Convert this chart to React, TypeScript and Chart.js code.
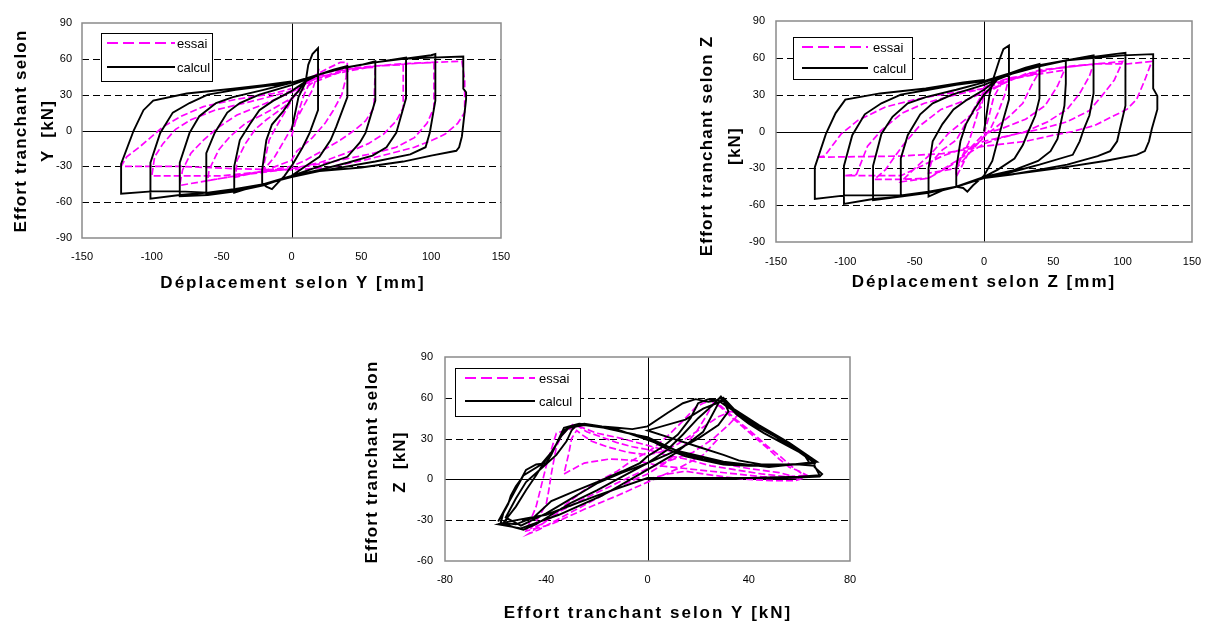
import { useEffect, useRef } from "react";
import { Chart, registerables } from "chart.js";

Chart.register(...registerables);

type P = [number, number];

const FONT = '"Liberation Sans", Arial, sans-serif';
const MAGENTA = "#FF00FF";

// ---------- Chart 1 : Effort tranchant Y vs déplacement Y ----------
const essaiY: P[] = [
  [0, -5], [4, 12], [9, 30], [14, 42], [19, 49], [15, 34], [8, 19], [2, 6], [-5, -8], [-12, -22], [-20, -33],
  [-20, -30], [-16, -8], [-11, 3], [-5, 15], [0, 25], [5, 35],
  [15, 45], [26, 52], [35, 57], [40, 57], [39, 44], [36, 30], [30, 17], [24, 6], [15, -6], [4, -17], [0, -25],
  [-20, -34], [-40, -39], [-39, -25], [-33, -11], [-26, 1], [-18, 9], [-5, 20], [0, 27], [10, 40],
  [26, 49], [45, 52], [60, 53], [59, 19], [53, 8], [46, 1], [35, -8], [22, -17], [10, -25], [0, -30],
  [-30, -36], [-60, -42], [-59, -33], [-52, -16], [-44, -5], [-33, 6], [-18, 15], [0, 27], [15, 40],
  [40, 51], [60, 54], [80, 55], [80, 19], [75, 8], [66, -3], [55, -11], [39, -19], [20, -27], [0, -32],
  [-40, -38], [-80, -46], [-78, -33], [-72, -19], [-63, -8], [-52, 3], [-39, 13], [-20, 22], [0, 32], [15, 42],
  [40, 52], [80, 56], [102, 57], [102, 19], [97, 6], [88, -6], [75, -14], [59, -19], [30, -26], [0, -32],
  [-50, -38], [-100, -38], [-98, -22], [-92, -11], [-83, 1], [-72, 9], [-55, 17], [-30, 24], [0, 33], [20, 45],
  [60, 54], [100, 57], [122, 58], [124, 42], [124, 15], [119, 6], [110, -3], [101, -8], [88, -14], [75, -18],
  [55, -24], [26, -31], [0, -33], [-40, -32], [-80, -30], [-122, -30], [-118, -22], [-109, -14], [-102, -7],
  [-92, 3], [-79, 12], [-63, 20], [-40, 26], [-13, 31], [0, 35],
];

const calculY: P[] = [
  [0, 0], [5, 28], [10, 40], [12, 55], [15, 64], [19, 69], [19, 17], [13, -2], [8, -14], [1, -28], [-5, -38],
  [-10, -44], [-14, -49], [-18, -47], [-21, -44], [-21, -33], [-18, -8], [-14, 5], [-6, 16], [1, 28], [5, 33],
  [10, 42], [20, 47], [30, 51], [40, 54], [40, 28], [32, 3], [28, -8], [20, -22], [10, -30], [0, -38],
  [-20, -45], [-30, -48], [-41, -52], [-41, -30], [-37, -8], [-30, 5], [-23, 17], [-13, 25], [0, 33],
  [10, 41], [20, 47], [40, 53], [50, 55], [60, 58], [60, 25], [53, -2], [49, -10], [40, -22], [20, -30], [0, -38],
  [-20, -45], [-40, -50], [-61, -53], [-61, -19], [-55, -2], [-46, 15], [-37, 23], [-23, 30], [0, 38],
  [20, 47], [40, 53], [60, 57], [82, 61], [82, 27], [75, -2], [68, -14], [58, -21], [40, -27], [20, -33], [0, -38],
  [-20, -46], [-40, -51], [-60, -54], [-80, -55], [-80, -27], [-73, -2], [-66, 12], [-54, 23], [-42, 28],
  [-20, 34], [0, 40], [20, 47], [40, 53], [60, 57], [80, 60], [100, 63], [103, 64], [103, 25], [99, -2],
  [96, -14], [85, -20], [60, -26], [40, -30], [20, -34], [0, -38], [-20, -45], [-40, -49], [-60, -52],
  [-80, -54], [-101, -57], [-101, -27], [-94, -2], [-85, 15], [-73, 23], [-60, 30], [-40, 34], [-20, 37],
  [0, 40], [20, 47], [40, 53], [60, 57], [80, 60], [100, 61], [123, 62], [123, 35], [125, 32], [125, 26],
  [122, -5], [120, -14], [118, -17], [100, -21], [80, -26], [50, -31], [20, -34], [0, -39], [-20, -45],
  [-40, -49], [-60, -52], [-80, -51], [-100, -51], [-122, -53], [-122, -28], [-113, 0], [-106, 17], [-99, 25],
  [-75, 31], [-42, 35], [-20, 38], [0, 41],
];

// ---------- Chart 2 : Effort tranchant Z vs déplacement Z ----------
const essaiZ: P[] = [
  [0, -2], [3, 10], [7, 28], [12, 38], [18, 44], [15, 30], [10, 15], [5, 3], [0, -5], [-10, -15], [-20, -37],
  [-20, -30], [-11, -9], [-4, 17], [-1, 31], [0, 36],
  [8, 40], [20, 44], [39, 47], [34, 37], [28, 23], [19, 13], [7, 2], [0, -4], [-20, -30], [-40, -34],
  [-38, -25], [-30, -15], [-20, -7], [-8, 17], [-1, 31],
  [10, 40], [30, 45], [58, 50], [53, 37], [44, 21], [30, 10], [12, 2], [0, -2], [-20, -25], [-40, -38],
  [-60, -41], [-48, -28], [-38, -18], [-26, -2], [-11, 12], [-2, 20], [0, 30],
  [20, 43], [50, 51], [79, 55], [76, 45], [69, 31], [60, 18], [46, 8], [30, 0], [10, -6], [0, -10],
  [-40, -38], [-60, -39], [-79, -39], [-71, -31], [-59, -12], [-47, 4], [-31, 18], [-12, 26], [0, 32],
  [30, 47], [60, 53], [100, 57], [94, 42], [85, 29], [76, 17], [60, 8], [41, 2], [19, -3], [0, -8],
  [-30, -20], [-60, -36], [-100, -36], [-92, -35], [-84, -12], [-74, 1], [-59, 15], [-43, 23], [-20, 30], [0, 35],
  [40, 50], [80, 55], [103, 55], [121, 57], [116, 42], [110, 26], [103, 18], [94, 13], [80, 5], [64, 0],
  [50, -3], [30, -8], [0, -12], [-30, -18], [-60, -20], [-121, -21], [-115, -20], [-103, -2], [-91, 9],
  [-71, 20], [-50, 26], [-26, 31], [0, 35],
];

const calculZ: P[] = [
  [0, 0], [4, 30], [7, 44], [11, 58], [14, 67], [18, 70], [18, 26], [14, 10], [9, -11], [6, -24], [0, -36],
  [-8, -44], [-12, -49], [-15, -46], [-20, -45], [-20, -30], [-17, -8], [-13, 6], [-7, 18], [0, 30], [5, 36],
  [10, 43], [20, 48], [30, 52], [40, 55], [40, 27], [37, 13], [32, 0], [28, -11], [22, -22], [10, -31], [0, -37],
  [-20, -45], [-30, -48], [-40, -53], [-40, -30], [-37, -8], [-30, 6], [-22, 18], [-12, 26], [0, 34],
  [10, 43], [20, 48], [40, 54], [59, 58], [59, 39], [58, 21], [53, -6], [48, -16], [39, -24], [20, -32], [0, -37],
  [-20, -45], [-40, -50], [-60, -52], [-60, -22], [-55, -3], [-46, 14], [-37, 23], [-23, 30], [0, 38],
  [20, 47], [40, 53], [60, 58], [79, 62], [79, 31], [76, 13], [72, 2], [69, -8], [64, -19], [40, -27],
  [20, -33], [0, -38], [-20, -45], [-40, -50], [-60, -53], [-80, -56], [-80, -28], [-74, -2], [-66, 12],
  [-55, 23], [-42, 28], [-20, 34], [0, 40], [20, 48], [40, 54], [60, 58], [80, 61], [94, 63], [102, 64],
  [102, 21], [98, 2], [96, -8], [91, -16], [82, -20], [60, -27], [40, -31], [20, -35], [0, -38], [-20, -45],
  [-40, -50], [-60, -53], [-80, -55], [-101, -59], [-101, -28], [-95, -3], [-86, 14], [-74, 23], [-60, 30],
  [-40, 34], [-20, 38], [0, 41], [20, 48], [40, 54], [60, 58], [80, 60], [100, 62], [122, 63], [122, 35],
  [125, 29], [125, 18], [121, 2], [119, -8], [116, -16], [110, -19], [87, -24], [53, -30], [19, -35], [0, -38],
  [-20, -45], [-40, -49], [-60, -52], [-80, -52], [-100, -52], [-122, -55], [-122, -29], [-114, -2], [-107, 15],
  [-100, 26], [-75, 31], [-42, 35], [-15, 40], [0, 42],
];

// ---------- Chart 3 : Effort tranchant Z vs effort tranchant Y ----------
const essaiYZ: P[] = [
  [0, 0], [8, 4], [15, 6], [22, 4], [30, 2], [40, 0], [50, -1], [58, -1], [62, 1], [63, 3], [60, 6], [56, 9],
  [52, 15], [48, 22], [43, 30], [38, 38], [33, 46], [29, 53], [25, 58], [22, 56], [19, 53], [14, 43], [8, 32],
  [3, 24], [0, 20], [-6, 14], [-12, 6], [-18, 0], [-25, -8], [-32, -18], [-38, -28], [-44, -36], [-47, -40],
  [-43, -37], [-36, -30], [-28, -22], [-20, -14], [-12, -6], [-5, 0], [0, 4], [7, 12], [13, 22], [19, 34],
  [23, 46], [26, 56], [29, 54], [35, 44], [41, 35], [47, 25], [53, 16], [58, 8], [62, 3], [55, 2], [45, 4],
  [35, 7], [25, 10], [15, 15], [7, 18], [0, 22], [-6, 24], [-12, 27], [-18, 31], [-24, 35], [-29, 41],
  [-31, 38], [-34, 32], [-36, 24], [-37, 14], [-38, 4], [-39, -8], [-40, -18], [-43, -28], [-46, -36],
  [-42, -33], [-35, -24], [-27, -16], [-18, -8], [-9, 0], [0, 8], [9, 14], [18, 20], [26, 30], [32, 40],
  [36, 48], [33, 50], [28, 46], [20, 36], [12, 26], [5, 20], [0, 18], [-8, 20], [-16, 24], [-22, 28],
  [-26, 33], [-28, 36], [-30, 30], [-31, 20], [-32, 12], [-33, 4], [-25, 12], [-15, 15], [-5, 14], [5, 10],
  [15, 8], [25, 6], [35, 4], [45, 2], [55, 1], [60, 1], [52, 5], [40, 8], [28, 12], [16, 18], [6, 22],
  [-2, 26], [-10, 30], [-20, 34], [-27, 39], [-36, 34], [-40, 10], [-44, -20], [-48, -38], [-38, -33],
  [-25, -22], [-12, -12], [0, -2], [12, 8], [22, 18], [28, 30],
];

const calculYZ: P[] = [
  [0, 0], [20, 1], [40, 1], [55, 1], [68, 2], [69, 4], [66, 9], [66, 12], [60, 20], [53, 27], [46, 34],
  [40, 41], [35, 48], [32, 54], [29, 60], [27, 58], [24, 57], [19, 59], [14, 56], [8, 49], [0, 39], [-6, 37],
  [-12, 38], [-18, 39], [-25, 41], [-30, 39], [-33, 36], [-36, 26], [-38, 18], [-40, 12], [-44, 11], [-48, 7],
  [-50, 0], [-52, -5], [-54, -12], [-55, -18], [-57, -25], [-58, -32], [-53, -35], [-49, -37], [-44, -33],
  [-38, -26], [-30, -17], [-20, -8], [-10, 2], [0, 12], [8, 22], [14, 33], [20, 45], [26, 55], [29, 61],
  [31, 56], [36, 47], [42, 40], [50, 32], [58, 23], [65, 15], [66, 12], [55, 11], [45, 10], [38, 11], [30, 12],
  [22, 15], [14, 19], [7, 25], [0, 31], [-8, 34], [-17, 38], [-25, 40], [-31, 38], [-34, 32], [-38, 20],
  [-41, 12], [-44, 3], [-48, -8], [-52, -20], [-57, -32], [-52, -33], [-45, -28], [-38, -16], [-28, -8],
  [-20, -2], [-10, 6], [-3, 12], [0, 17], [6, 24], [12, 33], [17, 45], [20, 56], [24, 59], [28, 58], [31, 54],
  [38, 46], [46, 37], [54, 28], [62, 18], [64, 12], [52, 10], [40, 10], [30, 11], [22, 14], [15, 17], [8, 22],
  [2, 28], [-5, 33], [-15, 37], [-22, 40], [-28, 40], [-30, 36], [-32, 28], [-36, 18], [-42, 8], [-48, -2],
  [-52, -14], [-56, -28], [-50, -34], [-40, -25], [-30, -14], [-20, -3], [-10, 5], [0, 12], [10, 20],
  [20, 30], [28, 40], [32, 50], [30, 58], [22, 52], [15, 44], [0, 36], [10, 30], [20, 24], [30, 18], [36, 14],
  [45, 11], [60, 11], [66, 10], [68, 3], [60, 2], [40, 1], [20, 1], [0, 1], [-20, -12], [-40, -26],
  [-55, -31], [-59, -33], [-50, -36], [-35, -26], [-18, -12], [-2, 5], [10, 18], [22, 35], [28, 56],
  [30, 60], [34, 52], [44, 40], [56, 27], [67, 13], [48, 9], [30, 13], [12, 21], [0, 29], [-14, 38],
  [-27, 41], [-33, 38], [-37, 22], [-42, 11], [-49, 3], [-54, -14], [-59, -31],
];

// ---------- Axes (tick ranges) ----------
const dispTicks = [-150, 150, 50]; // min, max, step (mm)
const shearTicks = [-90, 90, 30]; // min, max, step (kN)
const yzXTicks = [-80, 80, 40];
const yzYTicks = [-60, 90, 30];

const legendLabels = ["essai", "calcul"];

interface Panel {
  left: number; top: number; width: number; height: number;
  area: { l: number; t: number; r: number; b: number };
  xr: number[]; yr: number[];
  essai: P[]; calcul: P[];
  xTitle: string; xTitlePos: [number, number];
  yTitle: string[]; yTitleXs: number[]; yTitleCy: number;
  legend: { l: number; t: number; r: number; b: number; x0: number; x1: number; tx: number; rows: number[] };
  xPad: number; yPad: number;
}

const panels: Panel[] = [
  {
    left: 0, top: 0, width: 560, height: 300,
    area: { l: 82, t: 23, r: 501, b: 238 },
    xr: dispTicks, yr: shearTicks, essai: essaiY, calcul: calculY,
    xTitle: "Déplacement selon Y [mm]", xTitlePos: [292, 283],
    yTitle: ["Effort tranchant selon", "Y  [kN]"], yTitleXs: [21, 48], yTitleCy: 131,
    legend: { l: 101, t: 33, r: 212, b: 81, x0: 107, x1: 175, tx: 177, rows: [43, 67] },
    xPad: 13, yPad: 10,
  },
  {
    left: 680, top: 0, width: 552, height: 300,
    area: { l: 96, t: 21, r: 512, b: 242 },
    xr: dispTicks, yr: shearTicks, essai: essaiZ, calcul: calculZ,
    xTitle: "Déplacement selon Z [mm]", xTitlePos: [303, 282],
    yTitle: ["Effort tranchant selon Z", "[kN]"], yTitleXs: [27, 55], yTitleCy: 146,
    legend: { l: 113, t: 37, r: 232, b: 79, x0: 122, x1: 188, tx: 193, rows: [47, 68] },
    xPad: 14, yPad: 11,
  },
  {
    left: 350, top: 330, width: 560, height: 291,
    area: { l: 95, t: 27, r: 500, b: 231 },
    xr: yzXTicks, yr: yzYTicks, essai: essaiYZ, calcul: calculYZ,
    xTitle: "Effort tranchant selon Y [kN]", xTitlePos: [297, 283],
    yTitle: ["Effort tranchant selon", "Z  [kN]"], yTitleXs: [22, 50], yTitleCy: 132,
    legend: { l: 105, t: 38, r: 230, b: 86, x0: 115, x1: 185, tx: 189, rows: [48, 71] },
    xPad: 13, yPad: 12,
  },
];

function makeDecor(p: Panel) {
  return {
    id: "decor",
    beforeDatasetsDraw(chart: any) {
      const { ctx, chartArea: a, scales } = chart;
      const xs = scales.x, ys = scales.y;
      ctx.save();
      ctx.strokeStyle = "#000";
      ctx.lineWidth = 1;
      ctx.setLineDash([7, 4]);
      for (const t of ys.ticks) {
        if (t.value === 0 || t.value === ys.min || t.value === ys.max) continue;
        const y = Math.round(ys.getPixelForValue(t.value)) + 0.5;
        ctx.beginPath();
        ctx.moveTo(a.left, y);
        ctx.lineTo(a.right, y);
        ctx.stroke();
      }
      ctx.setLineDash([]);
      const y0 = Math.round(ys.getPixelForValue(0)) + 0.5;
      const x0 = Math.round(xs.getPixelForValue(0)) + 0.5;
      ctx.beginPath();
      ctx.moveTo(a.left, y0);
      ctx.lineTo(a.right, y0);
      ctx.moveTo(x0, a.top);
      ctx.lineTo(x0, a.bottom);
      ctx.stroke();
      ctx.restore();
    },
    afterDatasetsDraw(chart: any) {
      const { ctx, chartArea: a } = chart;
      ctx.save();
      // plot frame
      ctx.strokeStyle = "#8a8a8a";
      ctx.lineWidth = 1.5;
      ctx.strokeRect(a.left, a.top, a.right - a.left, a.bottom - a.top);
      // legend
      const L = p.legend;
      ctx.fillStyle = "#fff";
      ctx.fillRect(L.l, L.t, L.r - L.l, L.b - L.t);
      ctx.lineWidth = 2;
      ctx.strokeStyle = MAGENTA;
      ctx.setLineDash([11, 5]);
      ctx.beginPath();
      ctx.moveTo(L.x0, L.rows[0]);
      ctx.lineTo(L.x1, L.rows[0]);
      ctx.stroke();
      ctx.setLineDash([]);
      ctx.strokeStyle = "#000";
      ctx.beginPath();
      ctx.moveTo(L.x0, L.rows[1]);
      ctx.lineTo(L.x1, L.rows[1]);
      ctx.stroke();
      ctx.fillStyle = "#000";
      ctx.font = `13px ${FONT}`;
      ctx.textAlign = "left";
      ctx.textBaseline = "middle";
      ctx.fillText(legendLabels[0], L.tx, L.rows[0] + 1);
      ctx.fillText(legendLabels[1], L.tx, L.rows[1] + 1);
      ctx.lineWidth = 1;
      ctx.strokeStyle = "#000";
      ctx.strokeRect(L.l + 0.5, L.t + 0.5, L.r - L.l, L.b - L.t);
      // axis titles
      ctx.font = `bold 17px ${FONT}`;
      ctx.textAlign = "center";
      ctx.textBaseline = "middle";
      (ctx as any).letterSpacing = "2px";
      ctx.fillText(p.xTitle, p.xTitlePos[0] + 1, p.xTitlePos[1]);
      (ctx as any).letterSpacing = "1.2px";
      p.yTitle.forEach((line, i) => {
        ctx.save();
        ctx.translate(p.yTitleXs[i], p.yTitleCy);
        ctx.rotate(-Math.PI / 2);
        ctx.fillText(line, 0, 0);
        ctx.restore();
      });
      (ctx as any).letterSpacing = "0px";
      ctx.restore();
    },
  };
}

function PanelChart({ p }: { p: Panel }) {
  const ref = useRef<HTMLCanvasElement>(null);
  useEffect(() => {
    if (!ref.current) return;
    const chart = new Chart(ref.current, {
      type: "scatter",
      data: {
        datasets: [
          {
            label: legendLabels[0],
            data: p.essai.map(([x, y]) => ({ x, y })),
            showLine: true,
            borderColor: MAGENTA,
            backgroundColor: MAGENTA,
            borderWidth: 1.7,
            borderDash: [7, 3],
            pointRadius: 0,
            tension: 0,
            order: 2,
          },
          {
            label: legendLabels[1],
            data: p.calcul.map(([x, y]) => ({ x, y })),
            showLine: true,
            borderColor: "#000",
            backgroundColor: "#000",
            borderWidth: 1.9,
            pointRadius: 0,
            tension: 0,
            order: 1,
          },
        ],
      },
      options: {
        animation: false,
        responsive: false,
        events: [],
        layout: { padding: { top: p.area.t, right: p.width - p.area.r, left: 0, bottom: 0 } },
        plugins: { legend: { display: false }, tooltip: { enabled: false } },
        scales: {
          x: {
            type: "linear",
            min: p.xr[0],
            max: p.xr[1],
            grid: { display: false, drawTicks: false },
            border: { display: false },
            ticks: {
              stepSize: p.xr[2],
              autoSkip: false,
              maxRotation: 0,
              padding: p.xPad - 1,
              color: "#000",
              font: { family: FONT, size: 11 },
            },
            afterFit: (s: any) => { s.height = p.height - p.area.b; },
          },
          y: {
            type: "linear",
            min: p.yr[0],
            max: p.yr[1],
            grid: { display: false, drawTicks: false },
            border: { display: false },
            ticks: {
              stepSize: p.yr[2],
              autoSkip: false,
              padding: p.yPad,
              color: "#000",
              font: { family: FONT, size: 11 },
            },
            afterFit: (s: any) => { s.width = p.area.l; },
          },
        },
      },
      plugins: [makeDecor(p)],
    } as any);
    return () => chart.destroy();
  }, [p]);
  return (
    <canvas
      ref={ref}
      width={p.width}
      height={p.height}
      style={{ position: "absolute", left: p.left, top: p.top, width: p.width, height: p.height }}
    />
  );
}

export default function App() {
  return (
    <div style={{ position: "absolute", left: 0, top: 0, width: 1232, height: 621, background: "#fff", overflow: "hidden" }}>
      {panels.map((p, i) => (
        <PanelChart key={i} p={p} />
      ))}
    </div>
  );
}
